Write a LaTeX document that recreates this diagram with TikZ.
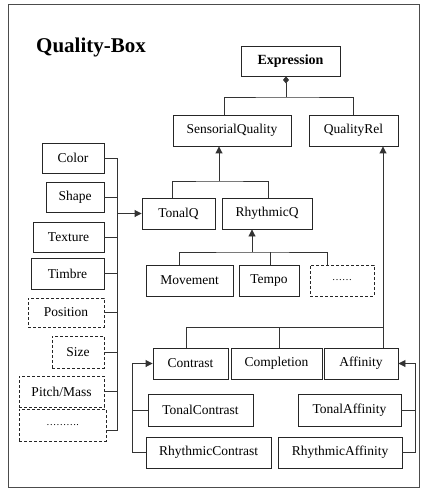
\documentclass[tikz,border=0pt]{standalone}
\usepackage{fontspec}
\setmainfont{Liberation Serif}
\usetikzlibrary{arrows.meta,calc}
\begin{document}
\begin{tikzpicture}[x=1pt,y=-1pt,
 box/.style={draw=black!85, line width=0.9pt, inner sep=0pt, font=\fontsize{13.5}{15}\selectfont},
 dbox/.style={box, dash pattern=on 3pt off 2pt},
 conn/.style={draw=black!80, line width=0.9pt},
 arr/.style={conn, -{Triangle[length=7pt,width=7pt]}},
]
\useasboundingbox (0,0) rectangle (420,489);
\draw[black!70, line width=1pt] (8,5) rectangle (419,487);

\node[anchor=base west, inner sep=0pt, font=\bfseries\fontsize{21}{24}\selectfont] (title) at (36,53) {Quality-Box};

% top hierarchy
\node[box, minimum width=99pt, minimum height=30pt, font=\bfseries\fontsize{14}{16}\selectfont] (expr) at (290.5,61) {Expression};
\node[box, minimum width=118pt, minimum height=31pt] (sq) at (232,130.5) {SensorialQuality};
\node[box, minimum width=89pt, minimum height=31pt] (qr) at (353.5,130.5) {QualityRel};

\node[box, minimum width=73pt, minimum height=31pt] (tq) at (178.5,213.5) {TonalQ};
\node[box, minimum width=90pt, minimum height=31pt] (rq) at (267,213.5) {RhythmicQ};

\node[box, minimum width=87pt, minimum height=31pt] (mv) at (189.5,280.5) {Movement};
\node[box, minimum width=60pt, minimum height=31pt] (te) at (269,280.5) {Tempo};
\node[dbox, minimum width=64pt, minimum height=31pt] (dots1) at (342,280.5) {\fontsize{10}{12}\selectfont ……};

% left column
\node[box, minimum width=62pt, minimum height=30pt] (color) at (73,158) {Color};
\node[box, minimum width=58pt, minimum height=30pt] (shape) at (75,197) {Shape};
\node[box, minimum width=71pt, minimum height=30pt] (texture) at (68.5,237) {Texture};
\node[box, minimum width=73pt, minimum height=31pt] (timbre) at (67.5,273.5) {Timbre};
\node[dbox, minimum width=76pt, minimum height=29pt] (position) at (66,312.5) {Position};
\node[dbox, minimum width=52pt, minimum height=32pt] (size) at (78,352) {Size};
\node[dbox, minimum width=85pt, minimum height=31pt] (pitch) at (61.5,391.5) {Pitch/Mass};
\node[dbox, minimum width=87pt, minimum height=32pt] (dots2) at (62.5,425) {\fontsize{10}{12}\selectfont ……….};

% relations
\node[box, minimum width=75pt, minimum height=31pt] (con) at (190.5,363.5) {Contrast};
\node[box, minimum width=91pt, minimum height=31pt] (comp) at (276.5,363.5) {Completion};
\node[box, minimum width=74pt, minimum height=31pt] (aff) at (361,363.5) {Affinity};
\node[box, minimum width=105pt, minimum height=32pt] (tc) at (200.5,410) {TonalContrast};
\node[box, minimum width=125pt, minimum height=31pt] (rc) at (208.5,452.5) {RhythmicContrast};
\node[box, minimum width=103pt, minimum height=32pt] (ta) at (349.5,410) {TonalAffinity};
\node[box, minimum width=124pt, minimum height=31pt] (ra) at (340,452.5) {RhythmicAffinity};

% connectors: expression
\coordinate (j1) at (286,97);
\draw[conn, {Diamond[length=7pt,width=6pt]}-] ($(expr.south)+(-4.5,0)$) -- (j1);
\draw[conn] ($(sq.north)+(-8,0)$) |- (j1) -| (qr.north);

% sensorial
\coordinate (j2) at (219,181);
\draw[arr] (j2) -- (sq.south -| j2);
\draw[conn] ($(tq.north)+(-6.5,0)$) |- (j2) -| ($(rq.north)+(1,0)$);

% rhythmic
\coordinate (j3) at (252,252);
\draw[arr] (j3) -- (rq.south -| j3);
\draw[conn] ($(mv.north)+(-10.5,0)$) |- (j3) -| ($(dots1.north)+(-15,0)$);
\draw[conn] ($(te.north)+(1,0)$) -- ++(0,-13);

% left bus
\coordinate (bb) at (117,430);
\draw[conn] (color.east) -| (bb) -- ($(dots2.east)+(0,5)$);
\foreach \n in {shape,texture,timbre,position,size,pitch}
  \draw[conn] (\n.east) -- (\n.east -| bb);
\draw[arr] (tq.west -| bb) -- (tq.west);

% quality relations
\coordinate (j4) at (383,327);
\draw[arr] (j4) -- (qr.south -| j4);
\draw[conn] ($(con.north)+(-4.5,0)$) |- (j4) -- ($(aff.north)+(22,0)$);
\draw[conn] ($(comp.north)+(2.5,0)$) -- ++(0,-21);

% contrast bracket
\draw[arr] (rc.west) -| ($(con.west)+(-20,0)$) -- (con.west);
\draw[conn] (tc.west) -- ++(-15,0);

% affinity bracket
\draw[arr] (ra.east) -| ($(aff.east)+(17,0)$) -- (aff.east);
\draw[conn] (ta.east) -- ++(14,0);
\end{tikzpicture}
\end{document}
